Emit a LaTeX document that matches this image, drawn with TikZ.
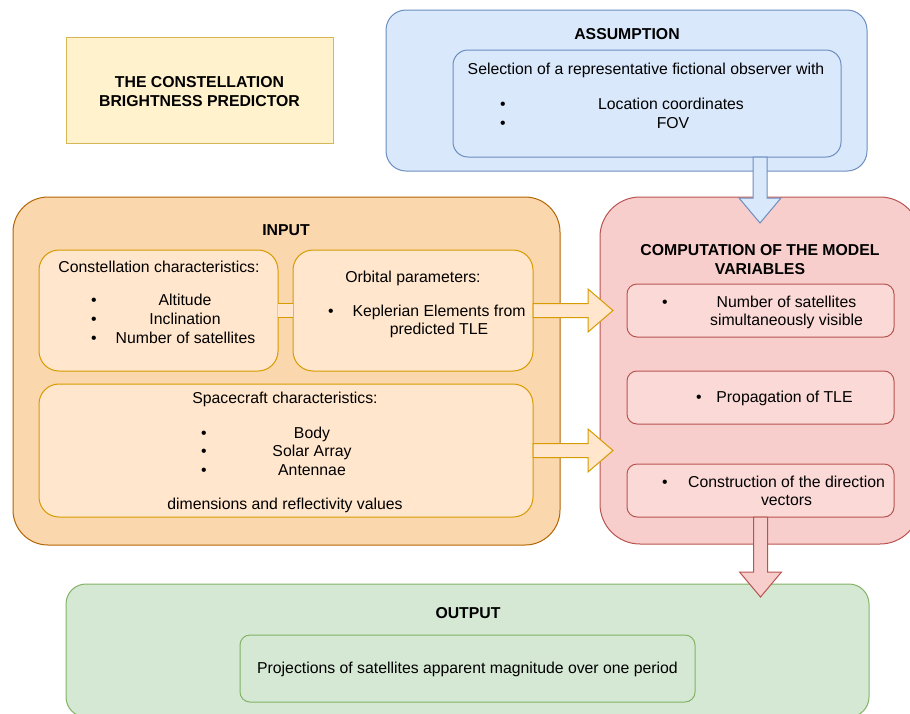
\documentclass[tikz,border=0pt]{standalone}
\usepackage{fontspec}
\setmainfont{Liberation Sans}
\usetikzlibrary{calc}
\definecolor{yelF}{HTML}{FFF2CC}\definecolor{yelD}{HTML}{D6B656}
\definecolor{bluF}{HTML}{DAE8FC}\definecolor{bluD}{HTML}{6C8EBF}
\definecolor{oraF}{HTML}{FAD7AC}\definecolor{oraD}{HTML}{B46504}
\definecolor{orlF}{HTML}{FFE6CC}\definecolor{orlD}{HTML}{D79B00}
\definecolor{redF}{HTML}{F8CECC}\definecolor{redD}{HTML}{B85450}
\definecolor{rdlF}{HTML}{FAD9D7}
\definecolor{grnF}{HTML}{D5E8D4}\definecolor{grnD}{HTML}{82B366}
\begin{document}
\begin{tikzpicture}[x=1pt,y=-1pt,line width=1pt,
  boxx/.style={rectangle,inner sep=0pt,outer sep=0pt},
  lbl/.style={inner sep=0pt,font=\fontsize{15.8}{19}\selectfont,text height=1.05em,text depth=0.05em},
  hdr/.style={inner sep=0pt,font=\bfseries\fontsize{15.8}{19}\selectfont,text height=1.05em,text depth=0.05em},
  mhdr/.style={inner sep=0pt,font=\bfseries\fontsize{15.8}{19}\selectfont,align=center},
  bul/.style={lbl},
  oarrow/.style={draw=orlD,fill=orlF,line join=miter},
  barrow/.style={draw=bluD,fill=bluF,line join=miter},
  rarrow/.style={draw=redD,fill=redF,line join=miter}]
\useasboundingbox (0,0) rectangle (910,713);
\clip (0,0) rectangle (910,713);
% title
\node[boxx,draw=yelD,fill=yelF,minimum width=267pt,minimum height=106pt] (title) at (199.5,90) {};
\node[mhdr] (titletxt) at (199.5,92) {THE CONSTELLATION\\BRIGHTNESS PREDICTOR};
% assumption
\node[boxx,draw=bluD,fill=bluF,rounded corners=20pt,minimum width=481pt,minimum height=161pt] (aout) at (626.5,90.5) {};
\node[boxx,draw=bluD,fill=bluF,rounded corners=15pt,minimum width=388pt,minimum height=107pt] (ain) at (647,103.5) {};
% input
\node[boxx,draw=oraD,fill=oraF,rounded corners=35pt,minimum width=547pt,minimum height=348pt] (inp) at (286.5,371) {};
\node[boxx,draw=orlD,fill=orlF,rounded corners=20pt,minimum width=239pt,minimum height=121pt] (const) at (158.5,310.5) {};
\node[boxx,draw=orlD,fill=orlF,rounded corners=20pt,minimum width=240pt,minimum height=121pt] (orb) at (413,310.5) {};
\node[boxx,draw=orlD,fill=orlF,rounded corners=20pt,minimum width=494pt,minimum height=133pt] (space) at (286,450.5) {};
% link between constellation and orbital boxes
\fill[orlF] ($(const.east)+(0,-7)$) rectangle ($(orb.west)+(0,7)$);
\draw[orlD] ($(const.east)+(0,-7)$) -- ($(orb.west)+(0,-7)$);
\draw[orlD] ($(const.east)+(0,7)$) -- ($(orb.west)+(0,7)$);
% computation
\node[boxx,draw=redD,fill=redF,rounded corners=40pt,minimum width=320pt,minimum height=347pt] (comp) at (760,370.5) {};
\node[boxx,draw=redD,fill=rdlF,rounded corners=10pt,minimum width=267pt,minimum height=53pt] (c1) at (760.5,310.5) {};
\node[boxx,draw=redD,fill=rdlF,rounded corners=10pt,minimum width=267pt,minimum height=53pt] (c2) at (760.5,397.5) {};
\node[boxx,draw=redD,fill=rdlF,rounded corners=10pt,minimum width=267pt,minimum height=53pt] (c3) at (760.5,490.5) {};
% output
\node[boxx,draw=grnD,fill=grnF,rounded corners=20pt,minimum width=803pt,minimum height=133pt] (out) at (467.5,650.5) {};
\node[boxx,draw=grnD,fill=grnF,rounded corners=10pt,minimum width=455pt,minimum height=67pt] (outin) at (467.5,668.5) {};
% arrows
\draw[barrow] ($(ain.south -| comp.north)+(-7,0)$) -- ++(0,41) -- ++(-14,0) -- ++(21,25) -- ++(21,-25) -- ++(-14,0) -- ++(0,-41) -- cycle;
\draw[oarrow] ($(orb.east)+(0,-7)$) -- ++(55,0) -- ++(0,-14.5) -- ++(25,21.5) -- ++(-25,21.5) -- ++(0,-14.5) -- ++(-55,0) -- cycle;
\draw[oarrow] ($(space.east)+(0,-7)$) -- ++(55,0) -- ++(0,-14.5) -- ++(25,21.5) -- ++(-25,21.5) -- ++(0,-14.5) -- ++(-55,0) -- cycle;
\draw[rarrow] ($(c3.south)+(-7,0)$) -- ++(0,55) -- ++(-14,0) -- ++(21,25) -- ++(21,-25) -- ++(-14,0) -- ++(0,-55) -- cycle;
% texts: assumption
\node[hdr] (assumhdr) at (627,34) {ASSUMPTION};
\node[lbl] (sel) at (646,69) {Selection of a representative fictional observer with};
\node[bul] (ab1) at (503,104) {•};
\node[bul] (ab2) at (503,123) {•};
\node[lbl] (loc) at (671,104) {Location coordinates};
\node[lbl] (fov) at (673,123) {FOV};
% texts: input
\node[hdr] (inphdr) at (286,230) {INPUT};
\node[lbl] (consthdr) at (159,267) {Constellation characteristics:};
\node[bul] (cb1) at (94,300) {•};
\node[bul] (cb2) at (94,319) {•};
\node[bul] (cb3) at (94,338) {•};
\node[lbl] (alt) at (185,300) {Altitude};
\node[lbl] (inc) at (185,319) {Inclination};
\node[lbl] (nsat) at (185.5,338) {Number of satellites};
\node[lbl] (orbhdr) at (413,277) {Orbital parameters:};
\node[bul] (ob1) at (331,311) {•};
\node[lbl] (kep) at (439,311) {Keplerian Elements from};
\node[lbl] (ptle) at (439,329) {predicted TLE};
\node[lbl] (sphdr) at (285,398) {Spacecraft characteristics:};
\node[bul] (sb1) at (204,433) {•};
\node[bul] (sb2) at (204,451.5) {•};
\node[bul] (sb3) at (204,470) {•};
\node[lbl] (body) at (312,433) {Body};
\node[lbl] (solar) at (312,451.5) {Solar Array};
\node[lbl] (ant) at (312,470) {Antennae};
\node[lbl] (dim) at (285,504) {dimensions and reflectivity values};
% texts: computation
\node[mhdr] (comphdr) at (760,260) {COMPUTATION OF THE MODEL\\VARIABLES};
\node[bul] (kb1) at (665,302) {•};
\node[lbl] (nvis1) at (786.5,302) {Number of satellites};
\node[lbl] (nvis2) at (786.5,320) {simultaneously visible};
\node[bul] (kb2) at (699,397) {•};
\node[lbl] (prop) at (784.5,397) {Propagation of TLE};
\node[bul] (kb3) at (665,482) {•};
\node[lbl] (constr1) at (786.5,482) {Construction of the direction};
\node[lbl] (constr2) at (786.5,500) {vectors};
% texts: output
\node[hdr] (outhdr) at (468,613) {OUTPUT};
\node[lbl] (proj) at (467.5,668) {Projections of satellites apparent magnitude over one period};
\end{tikzpicture}
\end{document}
